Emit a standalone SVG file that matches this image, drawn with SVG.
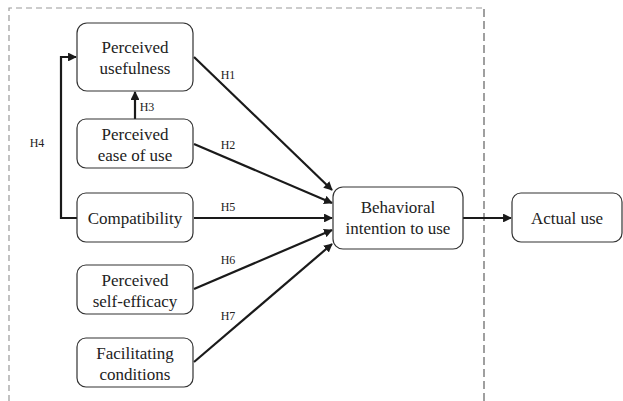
<svg xmlns="http://www.w3.org/2000/svg" width="623" height="401" viewBox="0 0 623 401">
<style>
.box{fill:#fff;stroke:#333;stroke-width:1.2}
.t{font-family:'Liberation Serif','Times New Roman','DejaVu Serif',serif;font-size:17px;fill:#222;text-anchor:middle}
.l{font-family:'Liberation Serif','Times New Roman','DejaVu Serif',serif;font-size:12px;fill:#222;text-anchor:middle}
.c{fill:none;stroke:#1a1a1a;stroke-width:2.2}
.d{fill:none;stroke:#999;stroke-width:1.2;stroke-dasharray:6,4}
.d2{fill:none;stroke:#777;stroke-width:1.4;stroke-dasharray:8,4}
</style>
<defs>
<marker id="a" viewBox="0 0 10 10" refX="9" refY="5" markerWidth="4" markerHeight="4" orient="auto" markerUnits="strokeWidth">
<path d="M0,0L10,5L0,10z" fill="#1a1a1a"/>
</marker>
</defs>
<path class="d" d="M9,401V8H484"/>
<path class="d2" d="M484,9V401"/>
<g id="connectors">
<path class="c" d="M77,218H61V57H76" marker-end="url(#a)"/>
<path class="c" d="M135,119V92" marker-end="url(#a)"/>
<path class="c" d="M194,57L332,190" marker-end="url(#a)"/>
<path class="c" d="M194,144L332,203" marker-end="url(#a)"/>
<path class="c" d="M194,218H332" marker-end="url(#a)"/>
<path class="c" d="M194,289L332,230" marker-end="url(#a)"/>
<path class="c" d="M194,362L332,244" marker-end="url(#a)"/>
<path class="c" d="M463,218H511" marker-end="url(#a)"/>
<text class="l" x="37" y="147">H4</text>
<text class="l" x="147" y="111">H3</text>
<text class="l" x="228" y="79">H1</text>
<text class="l" x="228" y="149">H2</text>
<text class="l" x="228" y="211">H5</text>
<text class="l" x="228" y="264">H6</text>
<text class="l" x="228" y="320">H7</text>
</g>
<g id="pu"><rect class="box" x="77" y="23" width="116" height="68" rx="10"/><text class="t" x="135" y="53">Perceived</text><text class="t" x="135" y="74">usefulness</text></g>
<g id="peou"><rect class="box" x="77" y="119" width="116" height="49" rx="9"/><text class="t" x="135" y="140">Perceived</text><text class="t" x="135" y="161">ease of use</text></g>
<g id="comp"><rect class="box" x="77" y="193" width="116" height="49" rx="9"/><text class="t" x="135" y="224">Compatibility</text></g>
<g id="pse"><rect class="box" x="77" y="265" width="116" height="49" rx="9"/><text class="t" x="135" y="286">Perceived</text><text class="t" x="135" y="307">self-efficacy</text></g>
<g id="fc"><rect class="box" x="77" y="338" width="116" height="49" rx="9"/><text class="t" x="135" y="359">Facilitating</text><text class="t" x="135" y="380">conditions</text></g>
<g id="bi"><rect class="box" x="333" y="187" width="130" height="62" rx="10"/><text class="t" x="398" y="213">Behavioral</text><text class="t" x="398" y="234">intention to use</text></g>
<g id="au"><rect class="box" x="512" y="193" width="110" height="49" rx="9"/><text class="t" x="567" y="224">Actual use</text></g>
</svg>
